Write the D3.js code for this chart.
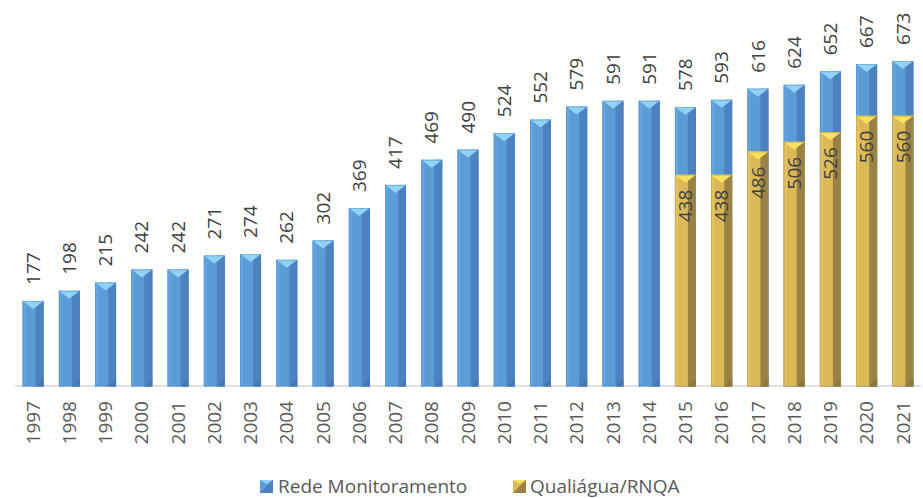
<!DOCTYPE html>
<html>
<head>
<meta charset="utf-8">
<script src="https://cdn.jsdelivr.net/npm/d3@7/dist/d3.min.js"></script>
<style>
  html, body { margin: 0; padding: 0; background: #fff; }
  svg { display: block; }
  text { font-family: "Open Sans", "Noto Sans", sans-serif; }
</style>
</head>
<body>
<svg id="chart" width="923" height="498"></svg>
<script>
const years = ["1997","1998","1999","2000","2001","2002","2003","2004","2005","2006","2007","2008","2009","2010","2011","2012","2013","2014","2015","2016","2017","2018","2019","2020","2021"];
const redeMonitoramento = [177,198,215,242,242,271,274,262,302,369,417,469,490,524,552,579,591,591,578,593,616,624,652,667,673];
const qualiagua = [null,null,null,null,null,null,null,null,null,null,null,null,null,null,null,null,null,null,438,438,486,506,526,560,560];
const seriesNames = ["Rede Monitoramento", "Qualiágua/RNQA"];

const svg = d3.select("#chart");
const baseY = 386.5;
const x = d3.scaleBand().domain(years).range([15, 921]).paddingInner(0.42).paddingOuter(0.21);
const y = d3.scaleLinear().domain([0, 700]).range([baseY, baseY - 700 * 0.4835]);

const palettes = {
  blue:   { main: "#5b9bd6", right: "#4c82bf", left: "#66a6e0", top: "#8fd3f8", bottom: "#3f6fa6", edge: "#4a7fb8" },
  yellow: { main: "#dcb957", right: "#9a8245", left: "#e3c261", top: "#f7e260", bottom: "#7d6a38", edge: "#a88f4a" }
};

function drawBar(g, x0, w, yTop, yBot, p) {
  const h = yBot - yTop;
  const bev = Math.min(8, h / 2);
  const rx = x0 + w * 0.62;
  g.append("rect").attr("x", x0).attr("y", yTop).attr("width", w).attr("height", h).attr("fill", p.main);
  g.append("rect").attr("x", x0).attr("y", yTop).attr("width", 3).attr("height", h).attr("fill", p.left);
  g.append("rect").attr("x", rx).attr("y", yTop).attr("width", x0 + w - rx).attr("height", h).attr("fill", p.right);
  // bottom bevel on right side
  g.append("path")
    .attr("d", `M${rx},${yBot} L${x0 + w},${yBot - bev} L${x0 + w},${yBot} Z`)
    .attr("fill", p.bottom).attr("opacity", 0.55);
  // top bevel triangle
  g.append("path")
    .attr("d", `M${x0},${yTop} L${x0 + w},${yTop} L${x0 + w / 2},${yTop + bev} Z`)
    .attr("fill", p.top);
  g.append("rect").attr("x", x0 + 0.5).attr("y", yTop + 0.5).attr("width", w - 1).attr("height", h - 1)
    .attr("fill", "none").attr("stroke", p.edge).attr("stroke-width", 0.6).attr("opacity", 0.6);
}

// axis line
svg.append("line").attr("x1", 15).attr("x2", 921).attr("y1", baseY - 0.5).attr("y2", baseY - 0.5)
  .attr("stroke", "#d9d9d9").attr("stroke-width", 1.5);

const bars = svg.append("g");
years.forEach((yr, i) => {
  const x0 = x(yr), w = x.bandwidth();
  drawBar(bars, x0, w, y(redeMonitoramento[i]), baseY, palettes.blue);
  if (qualiagua[i] != null) {
    drawBar(bars, x0, w, y(qualiagua[i]), baseY, palettes.yellow);
  }
});

// value labels
const labels = svg.append("g").attr("font-size", 19).attr("fill", "#404040");
years.forEach((yr, i) => {
  const cx = x(yr) + x.bandwidth() / 2;
  const ty = y(redeMonitoramento[i]) - 16;
  labels.append("text")
    .attr("transform", `translate(${cx},${ty}) rotate(-90)`)
    .attr("dy", "0.35em").attr("text-anchor", "start")
    .text(redeMonitoramento[i]);
  if (qualiagua[i] != null) {
    const qy = y(qualiagua[i]) + 15;
    labels.append("text")
      .attr("transform", `translate(${cx},${qy}) rotate(-90)`)
      .attr("dy", "0.35em").attr("text-anchor", "end")
      .text(qualiagua[i]);
  }
});

// x axis labels
const xl = svg.append("g").attr("font-size", 19).attr("fill", "#595959");
years.forEach(yr => {
  const cx = x(yr) + x.bandwidth() / 2;
  xl.append("text")
    .attr("transform", `translate(${cx},401) rotate(-90)`)
    .attr("dy", "0.35em").attr("text-anchor", "end")
    .text(yr);
});

// legend
const legend = svg.append("g").attr("font-size", 19).attr("fill", "#595959");
const legItems = [
  { name: seriesNames[0], p: palettes.blue, sx: 260, tx: 278 },
  { name: seriesNames[1], p: palettes.yellow, sx: 513, tx: 530 }
];
legItems.forEach(it => {
  legend.append("rect").attr("x", it.sx).attr("y", 480).attr("width", 13).attr("height", 13).attr("fill", it.p.main);
  legend.append("path").attr("d", `M${it.sx + 13},${480} L${it.sx + 13},${493} L${it.sx},${493} Z`).attr("fill", it.p.right);
  legend.append("path").attr("d", `M${it.sx},${480} L${it.sx + 13},${480} L${it.sx + 6.5},${484} Z`).attr("fill", it.p.top);
  legend.append("text").attr("x", it.tx).attr("y", 486.5).attr("dy", "0.35em").text(it.name);
});
</script>
</body>
</html>
